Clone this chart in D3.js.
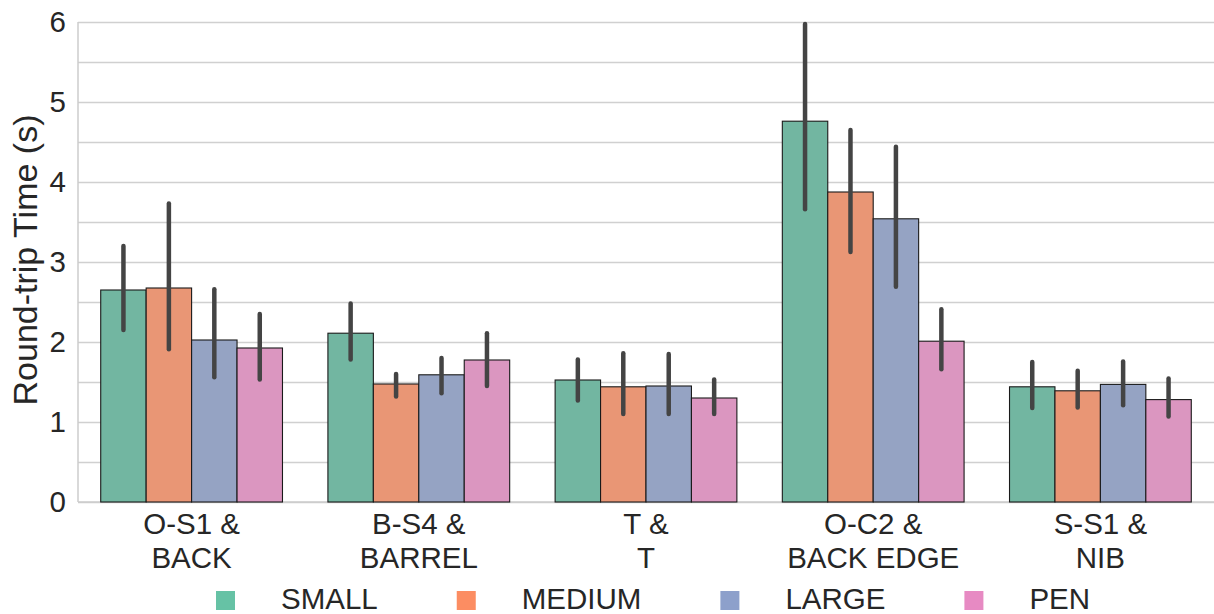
<!DOCTYPE html>
<html>
<head>
<meta charset="utf-8">
<script src="https://cdn.jsdelivr.net/npm/d3@7"></script>
<style>
  body { margin: 0; background: #fff; }
  svg { display: block; font-family: "Liberation Sans", Arial, sans-serif; }
</style>
</head>
<body>
<svg id="chart" width="1214" height="614"></svg>
<script>
// ---- data ----
const categories = [["O-S1 &", "BACK"], ["B-S4 &", "BARREL"], ["T &", "T"], ["O-C2 &", "BACK EDGE"], ["S-S1 &", "NIB"]];
const series = ["SMALL", "MEDIUM", "LARGE", "PEN"];
const means = {
  SMALL:  [2.65, 2.11, 1.525, 4.76, 1.44],
  MEDIUM: [2.675, 1.475, 1.44, 3.875, 1.39],
  LARGE:  [2.025, 1.59, 1.45, 3.54, 1.47],
  PEN:    [1.925, 1.775, 1.30, 2.01, 1.28]
};
const errLow = {
  SMALL:  [2.15, 1.78, 1.27, 3.66, 1.175],
  MEDIUM: [1.91, 1.32, 1.10, 3.125, 1.18],
  LARGE:  [1.56, 1.36, 1.10, 2.69, 1.21],
  PEN:    [1.53, 1.45, 1.10, 1.66, 1.07]
};
const errHigh = {
  SMALL:  [3.20, 2.48, 1.78, 5.975, 1.75],
  MEDIUM: [3.73, 1.60, 1.86, 4.65, 1.64],
  LARGE:  [2.66, 1.80, 1.85, 4.44, 1.755],
  PEN:    [2.35, 2.11, 1.53, 2.41, 1.545]
};
const yTicks = [0, 1, 2, 3, 4, 5, 6];
const gridTicks = [0, 0.5, 1, 1.5, 2, 2.5, 3, 3.5, 4, 4.5, 5, 5.5, 6];
const barColors = ["#72b6a1", "#e99675", "#95a3c3", "#db96c0"];
const legendColors = ["#66c2a5", "#fc8d62", "#8da0cb", "#e78ac3"];

// ---- layout ----
const margin = { left: 78, right: 0, top: 22, bottom: 112 };
const W = 1214, H = 614;
const iw = W - margin.left - margin.right;
const ih = H - margin.top - margin.bottom;
const textColor = "#262626";
const fontFam = '"Liberation Sans", Arial, sans-serif';

const svg = d3.select("#chart");
const g = svg.append("g").attr("transform", `translate(${margin.left},${margin.top})`);

const x0 = d3.scaleBand().domain(d3.range(categories.length)).range([0, iw]).paddingInner(0).paddingOuter(0);
const x1 = d3.scaleBand().domain(series).range([x0.bandwidth() * 0.1, x0.bandwidth() * 0.9]);
const y = d3.scaleLinear().domain([0, 6]).range([ih, 0]);
const color = d3.scaleOrdinal().domain(series).range(barColors);

// gridlines
const grid = g.append("g").call(d3.axisLeft(y).tickValues(gridTicks).tickSize(-iw).tickFormat(""));
grid.select(".domain").remove();
grid.selectAll(".tick line").attr("stroke", "#d0d0d0").attr("stroke-width", 1.3);

// spines
g.append("line").attr("x1", 0).attr("x2", 0).attr("y1", 0).attr("y2", ih).attr("stroke", "#cccccc").attr("stroke-width", 1.5);
g.append("line").attr("x1", 0).attr("x2", iw).attr("y1", ih).attr("y2", ih).attr("stroke", "#cccccc").attr("stroke-width", 1.5);

// bars
const groups = g.selectAll(".grp").data(categories.map((c, i) => i)).enter().append("g")
  .attr("transform", i => `translate(${x0(i)},0)`);

groups.selectAll("rect").data(i => series.map(s => ({ s, v: means[s][i] }))).enter().append("rect")
  .attr("x", d => x1(d.s))
  .attr("width", x1.bandwidth())
  .attr("y", d => y(d.v))
  .attr("height", d => ih - y(d.v))
  .attr("fill", d => color(d.s))
  .attr("stroke", "#1a1a1a")
  .attr("stroke-width", 1.1);

groups.selectAll("line.err").data(i => series.map(s => ({ s, lo: errLow[s][i], hi: errHigh[s][i] }))).enter().append("line")
  .attr("class", "err")
  .attr("x1", d => x1(d.s) + x1.bandwidth() / 2)
  .attr("x2", d => x1(d.s) + x1.bandwidth() / 2)
  .attr("y1", d => y(d.lo))
  .attr("y2", d => y(d.hi))
  .attr("stroke", "#444444")
  .attr("stroke-width", 4.5)
  .attr("stroke-linecap", "round");

// y axis
const ya = g.append("g").call(d3.axisLeft(y).tickValues(yTicks).tickSize(0).tickPadding(12).tickFormat(d3.format("d")));
ya.select(".domain").remove();
ya.selectAll("text").attr("font-size", 29.5).attr("fill", textColor).attr("dy", "0.33em")
  .style("font-family", fontFam);

// x axis
const xa = g.append("g").attr("transform", `translate(0,${ih})`)
  .call(d3.axisBottom(x0).tickSize(0).tickPadding(0).tickFormat(""));
xa.select(".domain").remove();
xa.selectAll(".tick").each(function (i) {
  const t = d3.select(this).append("text").attr("fill", textColor).attr("font-size", 29.5)
    .attr("text-anchor", "middle")
    .style("font-family", fontFam);
  t.append("tspan").attr("x", 0).attr("y", 32).text(categories[i][0]);
  t.append("tspan").attr("x", 0).attr("y", 66).text(categories[i][1]);
});

// y label
svg.append("text")
  .attr("transform", `translate(37,${margin.top + ih / 2 - 2}) rotate(-90)`)
  .attr("text-anchor", "middle")
  .attr("font-size", 34)
  .attr("fill", textColor)
  .style("font-family", fontFam)
  .text("Round-trip Time (s)");

// legend
const leg = svg.append("g");
let lx = 216;
series.forEach((s, i) => {
  leg.append("rect").attr("x", lx).attr("y", 591).attr("width", 19).attr("height", 19).attr("fill", legendColors[i]);
  const t = leg.append("text").attr("x", lx + 65).attr("y", 609).attr("font-size", 29.5).attr("fill", textColor)
    .style("font-family", fontFam).text(s);
  const w = t.node().getComputedTextLength();
  lx = lx + 65 + w + 79;
});
</script>
</body>
</html>
